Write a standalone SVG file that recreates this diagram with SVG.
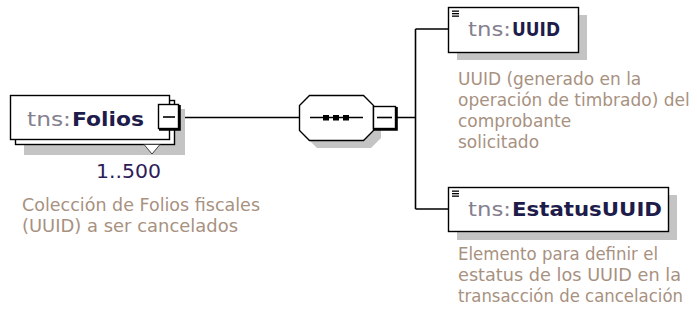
<svg xmlns="http://www.w3.org/2000/svg" width="697" height="320" viewBox="0 0 697 320">
<style>
.bg{fill:#ffffff}
.box{fill:#ffffff;stroke:#000000;stroke-width:1.4}
.shadow{fill:#c4c4c4;stroke:none}
.ln{fill:none;stroke:#000000;stroke-width:1.6}
.thick{fill:none;stroke:#000000;stroke-width:2.6}
.pre{font-family:"DejaVu Sans","Liberation Sans",sans-serif;font-size:20px;fill:#85808f}
.name{font-family:"DejaVu Sans","Liberation Sans",sans-serif;font-size:20px;font-weight:bold;fill:#1e1c4a}
.doc{font-family:"DejaVu Sans","Liberation Sans",sans-serif;font-size:17px;fill:#a8917f}
.occ{font-family:"DejaVu Sans","Liberation Sans",sans-serif;font-size:20px;fill:#2e1c58}
</style>
<rect class="bg" x="0" y="0" width="697" height="320"/>

<g id="connectors">
  <path class="ln" d="M180 117.5 H299"/>
  <path class="ln" d="M397 117.5 H415.5 M415.5 29 V209 M415.5 29 H448 M415.5 209 H448"/>
</g>

<g id="node-folios">
  <rect class="shadow" x="24" y="109" width="161" height="46"/>
  <rect class="box" x="15.5" y="100.5" width="159" height="44"/>
  <rect class="box" x="10.5" y="95.5" width="159" height="44"/>
  <polygon points="144,144.5 160,144.5 152,154" fill="#ffffff" stroke="#404040" stroke-width="1"/>
  <rect class="box" x="158.5" y="104.5" width="20" height="24"/>
  <path class="thick" d="M179.5 105 V129.5 H159"/>
  <path class="ln" d="M163 117 H175"/>
  <text class="pre" x="27" y="126" textLength="44" lengthAdjust="spacingAndGlyphs">tns:</text>
  <text class="name" x="72" y="126" textLength="72" lengthAdjust="spacingAndGlyphs">Folios</text>
  <text class="occ" x="96" y="177.5" textLength="65" lengthAdjust="spacingAndGlyphs">1..500</text>
  <text class="doc" x="22" y="211" textLength="238" lengthAdjust="spacingAndGlyphs">Colección de Folios fiscales</text>
  <text class="doc" x="22" y="232" textLength="216" lengthAdjust="spacingAndGlyphs">(UUID) a ser cancelados</text>
</g>

<g id="node-sequence">
  <polygon class="shadow" points="317,103 371,103 381,113 381,138 371,148 317,148 307,138 307,113"/>
  <polygon class="box" points="309.5,95.5 363.5,95.5 373.5,105.5 373.5,130.5 363.5,140.5 309.5,140.5 299.5,130.5 299.5,105.5"/>
  <path class="ln" d="M310 117.5 H363"/>
  <rect x="323" y="115" width="6" height="5.5" fill="#000000"/>
  <rect x="333" y="115" width="6" height="5.5" fill="#000000"/>
  <rect x="343" y="115" width="6" height="5.5" fill="#000000"/>
  <rect class="box" x="373.5" y="106.5" width="22" height="22"/>
  <path class="thick" d="M396.5 107 V129.5 H374"/>
  <path class="ln" d="M377 117.5 H392"/>
</g>

<g id="node-uuid">
  <rect class="shadow" x="457" y="15" width="130" height="45"/>
  <rect class="box" x="448.5" y="7.5" width="130" height="45"/>
  <rect x="452" y="10.5" width="7" height="1.3" fill="#000000"/>
  <rect x="452" y="13" width="7" height="1.3" fill="#000000"/>
  <rect x="452" y="15.5" width="7" height="1.3" fill="#000000"/>
  <text class="pre" x="468" y="36" textLength="43" lengthAdjust="spacingAndGlyphs">tns:</text>
  <text class="name" x="512" y="36" textLength="48" lengthAdjust="spacingAndGlyphs">UUID</text>
  <text class="doc" x="458" y="85">UUID (generado en la</text>
  <text class="doc" x="458" y="106">operación de timbrado) del</text>
  <text class="doc" x="458" y="127">comprobante</text>
  <text class="doc" x="458" y="148">solicitado</text>
</g>

<g id="node-estatusuuid">
  <rect class="shadow" x="457" y="195" width="220" height="45"/>
  <rect class="box" x="448.5" y="187.5" width="220" height="44"/>
  <rect x="452" y="190.5" width="7" height="1.3" fill="#000000"/>
  <rect x="452" y="193" width="7" height="1.3" fill="#000000"/>
  <rect x="452" y="195.5" width="7" height="1.3" fill="#000000"/>
  <text class="pre" x="468" y="216" textLength="43" lengthAdjust="spacingAndGlyphs">tns:</text>
  <text class="name" x="512" y="216" textLength="150" lengthAdjust="spacingAndGlyphs">EstatusUUID</text>
  <text class="doc" x="458" y="260" textLength="200" lengthAdjust="spacingAndGlyphs">Elemento para definir el</text>
  <text class="doc" x="458" y="281" textLength="223" lengthAdjust="spacingAndGlyphs">estatus de los UUID en la</text>
  <text class="doc" x="458" y="302" textLength="225" lengthAdjust="spacingAndGlyphs">transacción de cancelación</text>
</g>
</svg>
